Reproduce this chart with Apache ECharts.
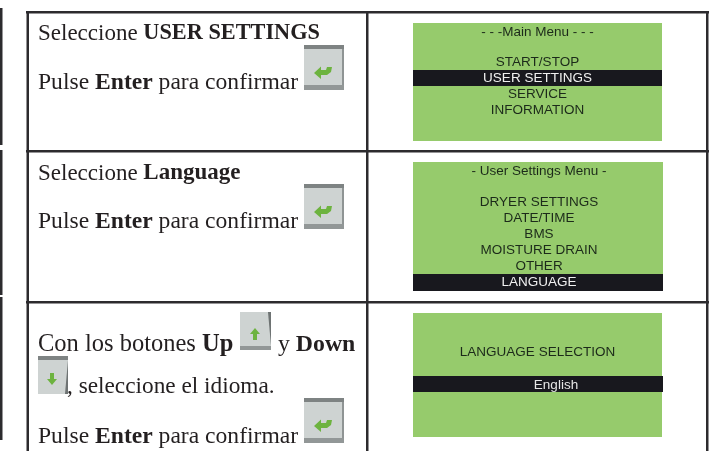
<!DOCTYPE html>
<html>
<head>
<meta charset="utf-8">
<style>
  html, body { margin: 0; padding: 0; background: #fff; }
  #main { width: 715px; height: 451px; }
</style>
<script src="https://cdn.jsdelivr.net/npm/echarts@6/dist/echarts.min.js"></script>
</head>
<body>
<div id="main"></div>
<script>
// text of the three table rows, {b|..} is bold
const instructionsRow1 = ['Seleccione {b|USER SETTINGS}', 'Pulse {b|Enter} para confirmar']
const instructionsRow2 = ['Seleccione {b|Language}', 'Pulse {b|Enter} para confirmar']
const instructionsRow3 = ['Con los botones {b|Up}', 'y {b|Down}', ', seleccione el idioma.', 'Pulse {b|Enter} para confirmar']
const menuRow1 = ['- - -Main Menu - - -', 'START/STOP', 'USER SETTINGS', 'SERVICE', 'INFORMATION']
const menuRow2 = ['- User Settings Menu -', 'DRYER SETTINGS', 'DATE/TIME', 'BMS', 'MOISTURE DRAIN', 'OTHER', 'LANGUAGE']
const menuRow3 = ['LANGUAGE SELECTION', 'English']

const INK = '#231f20'
const RULE = '#2c2b2e'
const GREEN = '#96cb6c'
const BAR = '#18181e'
const g = []

function rect(x, y, w, h, fill) {
  g.push({type: 'rect', silent: true, shape: {x: x, y: y, width: w, height: h}, style: {fill: fill}})
}

function poly(points, fill) {
  g.push({type: 'polygon', silent: true, shape: {points: points}, style: {fill: fill}})
}

function para(text, x, y, size, boldSize) {
  g.push({
    type: 'text', silent: true, x: x, y: y,
    style: {
      text: text,
      font: size + 'px "Liberation Serif"',
      fill: INK,
      verticalAlign: 'middle',
      rich: {b: {font: 'bold ' + (boldSize || size) + 'px "Liberation Serif"', fill: INK}}
    }
  })
}

function lcd(text, x, y, fill) {
  g.push({
    type: 'text', silent: true, x: x, y: y,
    style: {text: text, font: '13.5px "Liberation Sans"', fill: fill, align: 'center', verticalAlign: 'middle'}
  })
}

function enterButton(x, y) {
  rect(x, y, 40, 45, '#ced3d2')
  rect(x, y, 40, 4, '#7e8383')
  rect(x, y + 40, 40, 5, '#929797')
  rect(x + 38, y + 4, 2, 36, '#8f9494')
  poly([[x + 10, y + 28], [x + 17, y + 21.5], [x + 17, y + 25], [x + 22, y + 25], [x + 23, y + 22],
    [x + 28, y + 22], [x + 27, y + 27], [x + 23, y + 30], [x + 17, y + 30], [x + 17, y + 34]], '#6db33f')
}

function upButton(x, y) {
  rect(x, y, 31, 38, '#ced3d2')
  rect(x, y + 34, 31, 4, '#929797')
  poly([[x + 28, y], [x + 31, y], [x + 31, y + 34]], '#6e7373')
  poly([[x + 15, y + 16], [x + 20, y + 22], [x + 17, y + 22], [x + 17, y + 28], [x + 13, y + 28], [x + 13, y + 22], [x + 10, y + 22]], '#6db33f')
}

function downButton(x, y) {
  rect(x, y, 30, 38, '#ced3d2')
  rect(x, y, 30, 4, '#7e8383')
  poly([[x + 30, y + 4], [x + 30, y + 38], [x + 27, y + 38]], '#6e7373')
  poly([[x + 14, y + 29], [x + 9, y + 23], [x + 12, y + 23], [x + 12, y + 17], [x + 16, y + 17], [x + 16, y + 23], [x + 19, y + 23]], '#6db33f')
}

// table frame
rect(26, 11, 683, 2.5, RULE)
rect(26, 150, 683, 2.5, RULE)
rect(26, 301, 683, 2.5, RULE)
rect(26.5, 11, 2.5, 440, RULE)
rect(366, 11, 2.5, 440, RULE)
rect(706, 11, 2.5, 440, RULE)
// edge of the previous table, at the left of the page
rect(0, 8, 2.5, 137, RULE)
rect(0, 150, 2.5, 145, RULE)
rect(0, 297, 2.5, 143, RULE)

// left column
para(instructionsRow1[0], 38, 33.5, 23, 22.3)
para(instructionsRow1[1], 38, 83, 23.6)
para(instructionsRow2[0], 38, 173.5, 23, 23)
para(instructionsRow2[1], 38, 222, 23.6)
para(instructionsRow3[0], 38, 344.5, 24.5)
para(instructionsRow3[1], 278, 344.5, 23.8)
para(instructionsRow3[2], 67, 387, 23.3)
para(instructionsRow3[3], 38, 437, 23.6)
enterButton(304, 45)
enterButton(304, 184)
upButton(240, 312)
downButton(38, 356)
enterButton(304, 398)

// right column screens
rect(413, 23, 249, 118, GREEN)
rect(413, 70, 249, 16, BAR)
lcd(menuRow1[0], 537.5, 32.5, '#1c2a1a')
lcd(menuRow1[1], 537.5, 62.5, '#1c2a1a')
lcd(menuRow1[2], 537.5, 78.5, '#f0f0f0')
lcd(menuRow1[3], 537.5, 94.5, '#1c2a1a')
lcd(menuRow1[4], 537.5, 110, '#1c2a1a')

rect(413, 162, 250, 129, GREEN)
rect(413, 274, 250, 17, BAR)
lcd(menuRow2[0], 539, 171.5, '#1c2a1a')
lcd(menuRow2[1], 539, 202.5, '#1c2a1a')
lcd(menuRow2[2], 539, 218.5, '#1c2a1a')
lcd(menuRow2[3], 539, 234.5, '#1c2a1a')
lcd(menuRow2[4], 539, 250.5, '#1c2a1a')
lcd(menuRow2[5], 539, 266.5, '#1c2a1a')
lcd(menuRow2[6], 539, 282.5, '#f0f0f0')

rect(413, 313, 249, 124, GREEN)
rect(413, 376, 250, 16, BAR)
lcd(menuRow3[0], 537.5, 352.5, '#1c2a1a')
lcd(menuRow3[1], 556, 385, '#e6e6e6')

const chart = echarts.init(document.getElementById('main'))
chart.setOption({
  backgroundColor: '#fff',
  animation: false,
  graphic: {elements: g}
})
</script>
</body>
</html>
